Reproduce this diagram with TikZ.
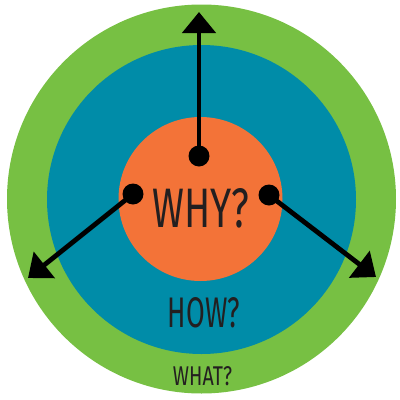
\documentclass[tikz,border=0pt]{standalone}
\usepackage{fontspec}
\setmainfont{Fira Sans}
\usetikzlibrary{arrows.meta}
\definecolor{ringgreen}{HTML}{77C043}
\definecolor{ringblue}{HTML}{008CA8}
\definecolor{ringorange}{HTML}{F37338}
\definecolor{txt}{HTML}{231F20}
\tikzset{
  ring/.style={circle, inner sep=0pt, minimum size=#1},
  dot/.style={circle, fill=black, inner sep=0pt, minimum size=21pt},
  arr/.style={line width=4.8pt, -{Triangle[width=33pt,length=21pt]}},
  lbl/.style={text=txt, inner sep=0pt}
}
\begin{document}
\begin{tikzpicture}[x=1pt,y=-1pt]
\useasboundingbox (0,0) rectangle (400,400);
\node[ring=389pt, fill=ringgreen] (what) at (201.5,199) {};
\node[ring=309pt, fill=ringblue] (how) at (201.5,199.5) {};
\node[ring=164pt, fill=ringorange] (why) at (200.5,199) {};
\node[lbl] (whyt) at (201,208) {\resizebox{97pt}{39pt}{WHY?}};
\node[lbl] (howt) at (204,313) {\resizebox{72pt}{30pt}{HOW?}};
\node[lbl] (whatt) at (202.5,376.5) {\resizebox{59pt}{19pt}{WHAT?}};
\node[dot] (d1) at (199,156) {};
\node[dot] (d2) at (133,194) {};
\node[dot] (d3) at (269,195) {};
\coordinate (t1) at (199,12);
\coordinate (t2) at (28,278);
\coordinate (t3) at (376,277);
\draw[arr] (d1.center) -- (t1);
\draw[arr] (d2.center) -- (t2);
\draw[arr] (d3.center) -- (t3);
\end{tikzpicture}
\end{document}
